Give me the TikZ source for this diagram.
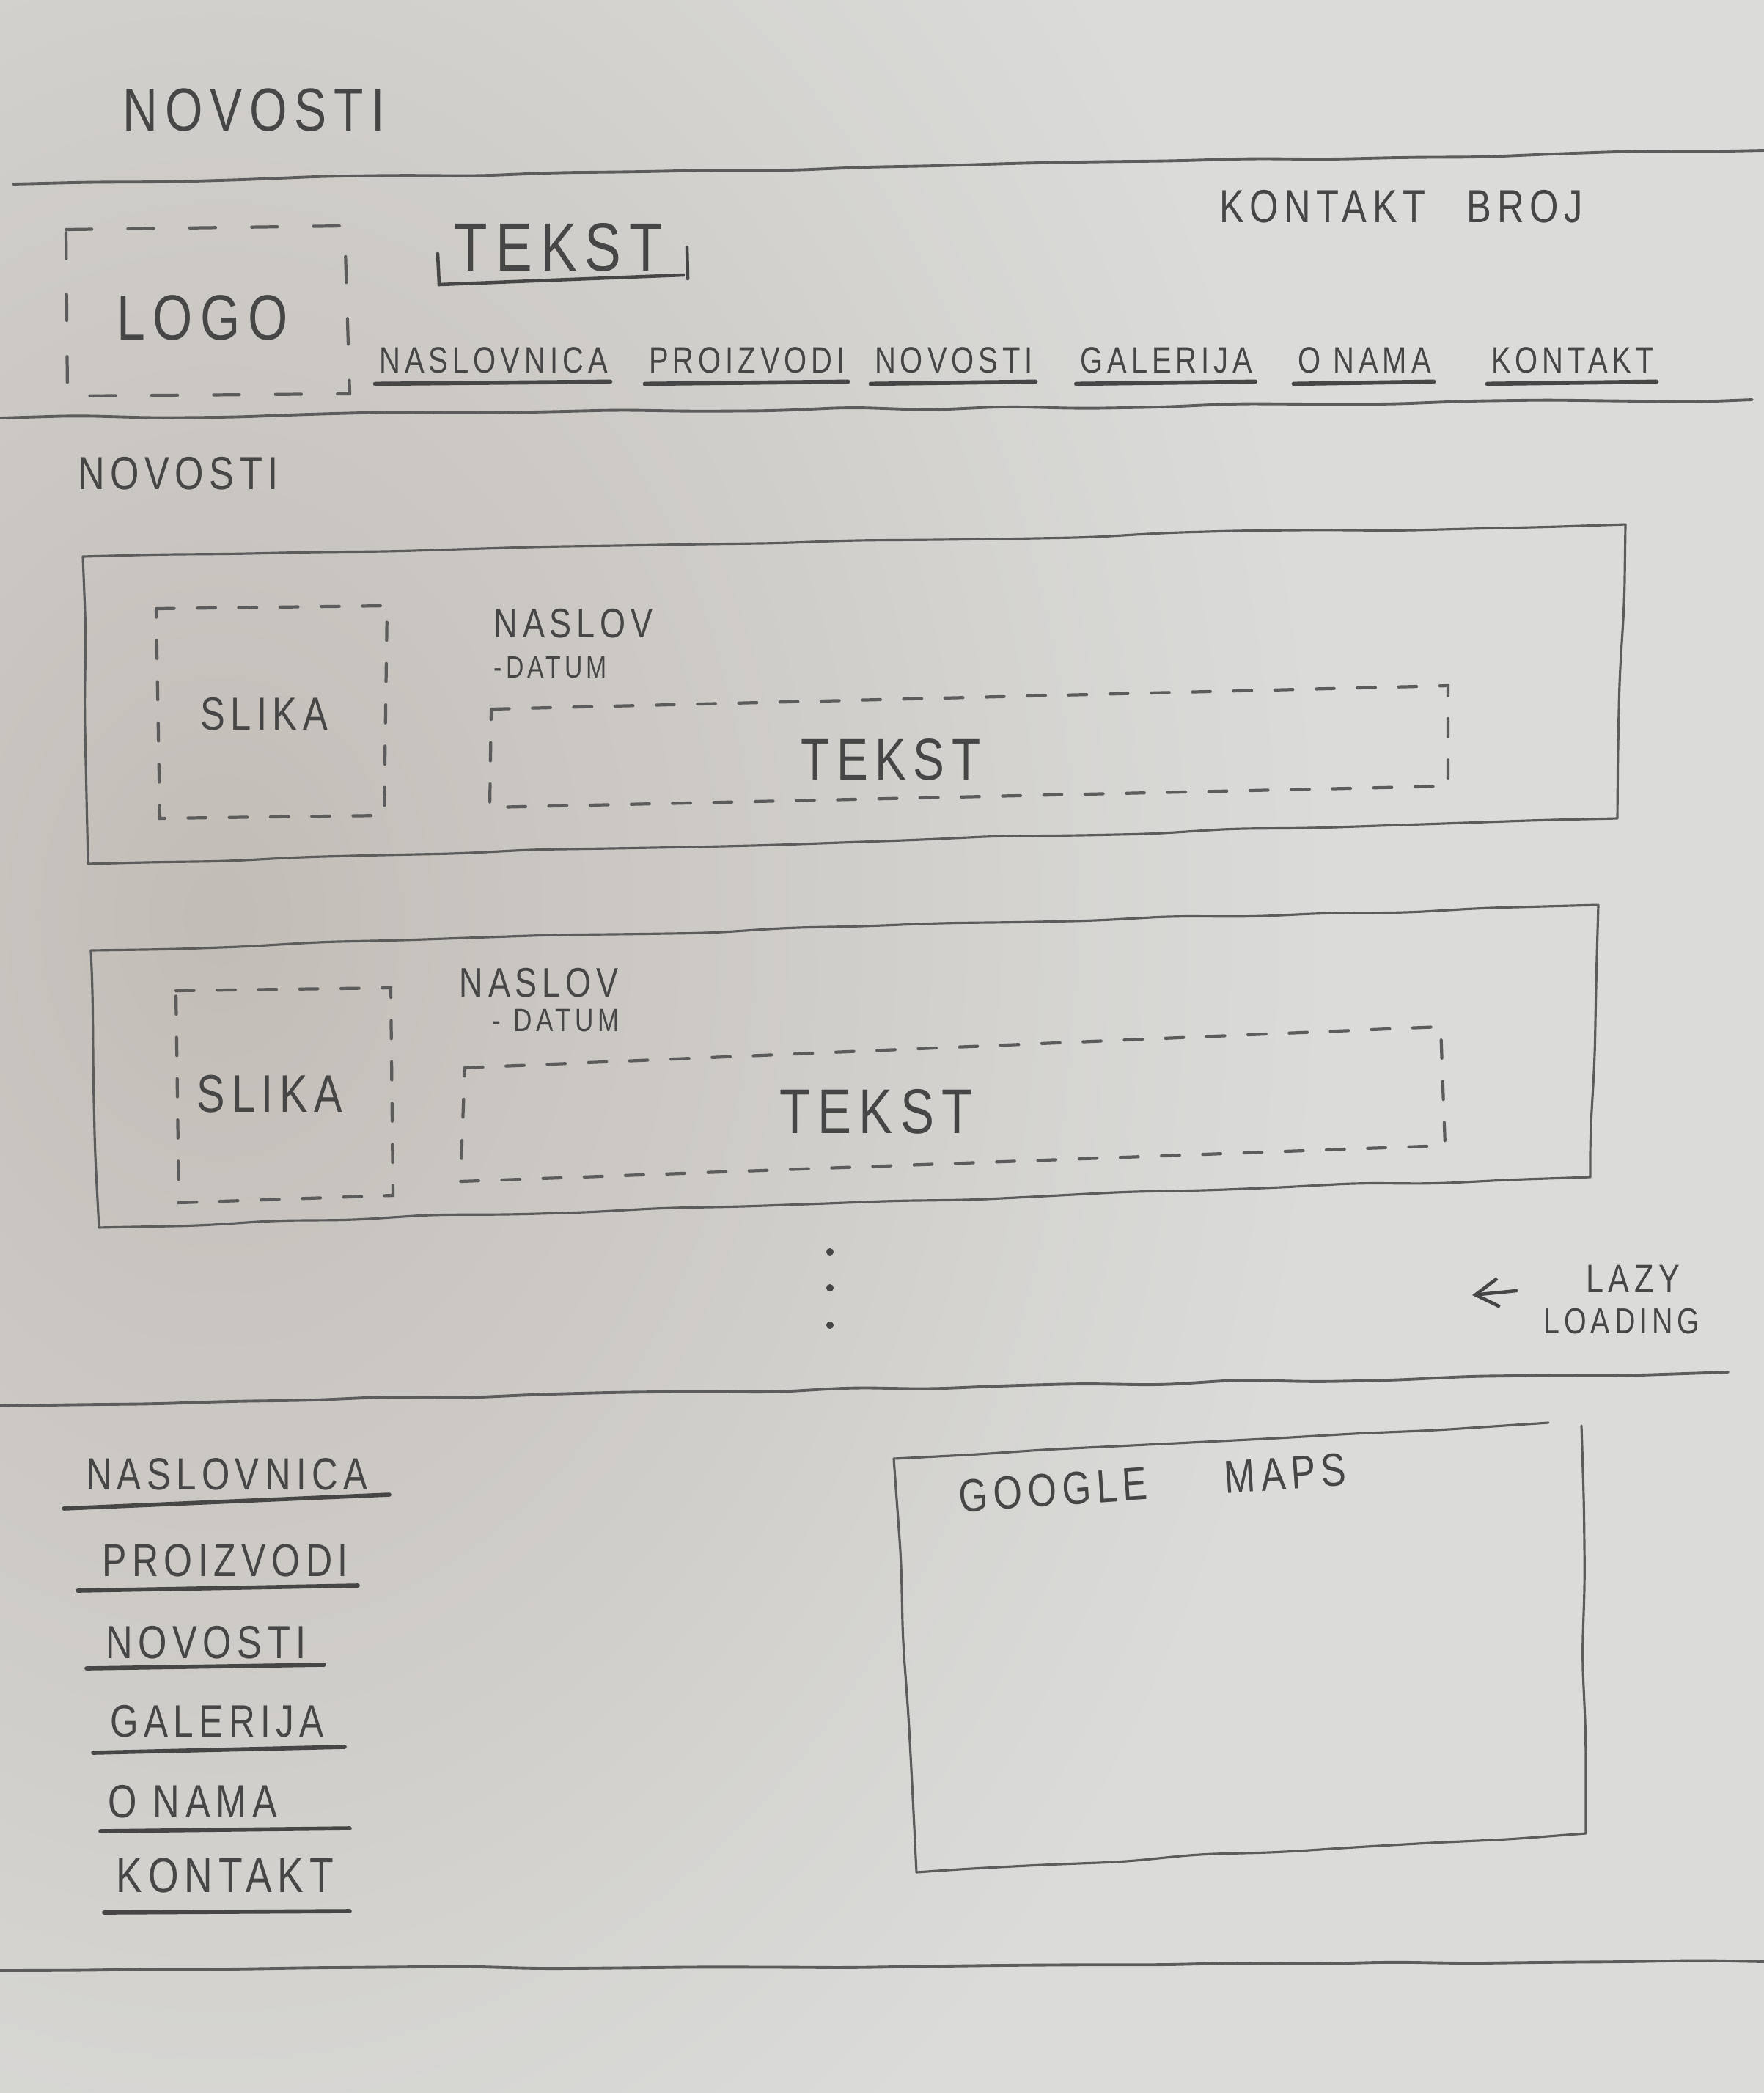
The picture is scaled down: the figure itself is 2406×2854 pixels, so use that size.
\documentclass[tikz,border=0pt]{standalone}
\usepackage{fontspec}
\newfontfamily\hand[FakeStretch=0.8,LetterSpace=12]{Liberation Sans}
\newcommand\fsz[1]{\fontsize{#1}{#1}\selectfont}
\usetikzlibrary{arrows.meta,decorations.pathmorphing,fadings,calc}

\definecolor{paper}{RGB}{219,220,218}
\definecolor{shadow}{RGB}{195,189,183}
\definecolor{pencil}{RGB}{70,70,70}
\definecolor{lead}{RGB}{92,92,92}

\tikzfading[name=softblob, inner color=transparent!0, outer color=transparent!100]

\tikzset{
  hw/.style={font=\hand, text=pencil, inner sep=0pt},
  rule/.style={draw=lead, line width=1.1pt, line cap=round},
  wobble/.style={decorate, decoration={random steps, segment length=30pt, amplitude=0.7pt}, rounded corners=8pt},
  frame/.style={draw=lead, line width=0.9pt, line cap=round, line join=round},
  dashbox/.style={draw=lead, line width=1.2pt, dash pattern=on 7pt off 9pt, line cap=round},
  uline/.style={draw=pencil, line width=1.6pt, line cap=round},
}

\begin{document}
\pgfmathsetseed{7}
\begin{tikzpicture}[x=0.01cm, y=-0.01cm]
\useasboundingbox (0,0) rectangle (2406,2854);

% sheet of paper with its soft shadow
\fill[paper] (0,0) rectangle (2406,2854);
\fill[shadow, path fading=softblob] (300,1250) ellipse [x radius=1500, y radius=2000];

% page title
\node[hw, font=\hand\fsz{23.5pt}] (title) at (346,150) {NOVOSTI};
\draw[rule, wobble] (18,251) -- (2406,205);

% header: logo, tagline, phone, navigation
\draw[dashbox, dash pattern=on 10pt off 14pt] (90,313) -- (470,308) -- (477,537) -- (92,540) -- cycle;
\node[hw, font=\hand\fsz{24.8pt}] (logo) at (276,433) {LOGO};

\node[hw, font=\hand\fsz{26.5pt}] (tag) at (762,337) {TEKST};
\draw[uline, line width=1.3pt] (597,346) -- (599,388) -- (932,375);
\draw[uline, line width=1.3pt] (937,337) -- (938,380);

\node[hw, font=\hand\fsz{18pt}] (phone) at (1911,282) {KONTAKT\hspace{16pt}BROJ};

\foreach \name/\x/\lbl in {nv1/673/NASLOVNICA, nv2/1019/PROIZVODI, nv3/1301/NOVOSTI,
                          nv4/1591/GALERIJA, nv5/1861/O NAMA, nv6/2145/KONTAKT}{
  \node[hw, font=\hand\fsz{14.2pt}] (\name) at (\x,491) {\lbl};
  \draw[uline] ($(\name.south west)+(-5,14)$) -- ($(\name.south east)+(3,11)$);
}

\draw[rule, wobble] (0,570) -- (2390,545);

% news list
\node[hw, font=\hand\fsz{18pt}] (sub) at (243,646) {NOVOSTI};

% first article card, each edge drawn on its own
\coordinate (c1a) at (113,759);
\coordinate (c1b) at (2217,715);
\coordinate (c1c) at (2206,1116);
\coordinate (c1d) at (120,1178);
\draw[frame, wobble] (c1a) -- (c1b);
\draw[frame, wobble] (c1b) -- (c1c);
\draw[frame, wobble] (c1c) -- (c1d);
\draw[frame, wobble] (c1d) -- (c1a);
\draw[dashbox] (213,830) -- (528,826) -- (524,1112) -- (218,1116) -- cycle;
\node[hw, font=\hand\fsz{18pt}] (img1) at (360,974) {SLIKA};
\node[hw, font=\hand\fsz{16pt}] (head1) at (782,850) {NASLOV};
\node[hw, font=\hand\fsz{12pt}] (date1) at (751,910) {-DATUM};
\draw[dashbox] (670,967) -- (1975,935) -- (1975,1072) -- (668,1101) -- cycle;
\node[hw, font=\hand\fsz{22.8pt}] (body1) at (1215,1036) {TEKST};

% second article card
\coordinate (c2a) at (124,1296);
\coordinate (c2b) at (2180,1234);
\coordinate (c2c) at (2169,1605);
\coordinate (c2d) at (135,1674);
\draw[frame, wobble] (c2a) -- (c2b);
\draw[frame, wobble] (c2b) -- (c2c);
\draw[frame, wobble] (c2c) -- (c2d);
\draw[frame, wobble] (c2d) -- (c2a);
\draw[dashbox] (240,1351) -- (533,1347) -- (536,1630) -- (244,1640) -- cycle;
\node[hw, font=\hand\fsz{20.5pt}] (img2) at (368,1492) {SLIKA};
\node[hw, font=\hand\fsz{16pt}] (head2) at (735,1340) {NASLOV};
\node[hw, font=\hand\fsz{12.5pt}] (date2) at (758,1392) {-\hspace{5pt}DATUM};
\draw[dashbox] (634,1456) -- (1965,1400) -- (1971,1562) -- (628,1611) -- cycle;
\node[hw, font=\hand\fsz{24.5pt}] (body2) at (1195,1516) {TEKST};

% more items follow
\fill[pencil] (1132,1707) circle [radius=5];
\fill[pencil] (1132,1756) circle [radius=5];
\fill[pencil] (1132,1807) circle [radius=5];

\node[hw, font=\hand\fsz{15.4pt}] (lazy) at (2227,1744) {LAZY};
\node[hw, font=\hand\fsz{14pt}] (loading) at (2212,1802) {LOADING};
\coordinate (lzA) at (2068,1760);
\coordinate (lzB) at (2008,1766);
\draw[uline, line width=1.3pt, -{Straight Barb[length=9pt, width=11pt]}] (lzA) -- (lzB);

\draw[rule, wobble] (0,1917) -- (2357,1871);

% footer links
\node[hw, font=\hand\fsz{17.5pt}] (f1) at (309,2010) {NASLOVNICA};
\node[hw, font=\hand\fsz{17.8pt}] (f2) at (307,2128) {PROIZVODI};
\node[hw, font=\hand\fsz{18pt}] (f3) at (281,2240) {NOVOSTI};
\node[hw, font=\hand\fsz{17.6pt}] (f4) at (296,2347) {GALERIJA};
\node[hw, font=\hand\fsz{18pt}] (f5) at (263,2457) {O NAMA};
\node[hw, font=\hand\fsz{19pt}] (f6) at (307,2557) {KONTAKT};
\draw[uline] (87,2057) -- (531,2038);
\draw[uline] (106,2169) -- (488,2162);
\draw[uline] (118,2275) -- (442,2270);
\draw[uline] (127,2390) -- (470,2382);
\draw[uline] (137,2497) -- (477,2493);
\draw[uline] (142,2608) -- (477,2606);

% map area
\coordinate (m1) at (1219,1989);
\coordinate (m2) at (2112,1940);
\coordinate (m3) at (2157,1944);
\coordinate (m4) at (2163,2500);
\coordinate (m5) at (1250,2553);
\draw[frame, wobble] (m1) -- (m2);
\draw[frame, wobble] (m3) -- (m4);
\draw[frame, wobble] (m4) -- (m5);
\draw[frame, wobble] (m5) -- (m1);
\node[hw, font=\hand\fsz{18pt}, rotate=4] (maps) at (1572,2022) {GOOGLE\hspace{30pt}MAPS};

\draw[rule, wobble] (0,2687) -- (2406,2675);
\end{tikzpicture}
\end{document}
